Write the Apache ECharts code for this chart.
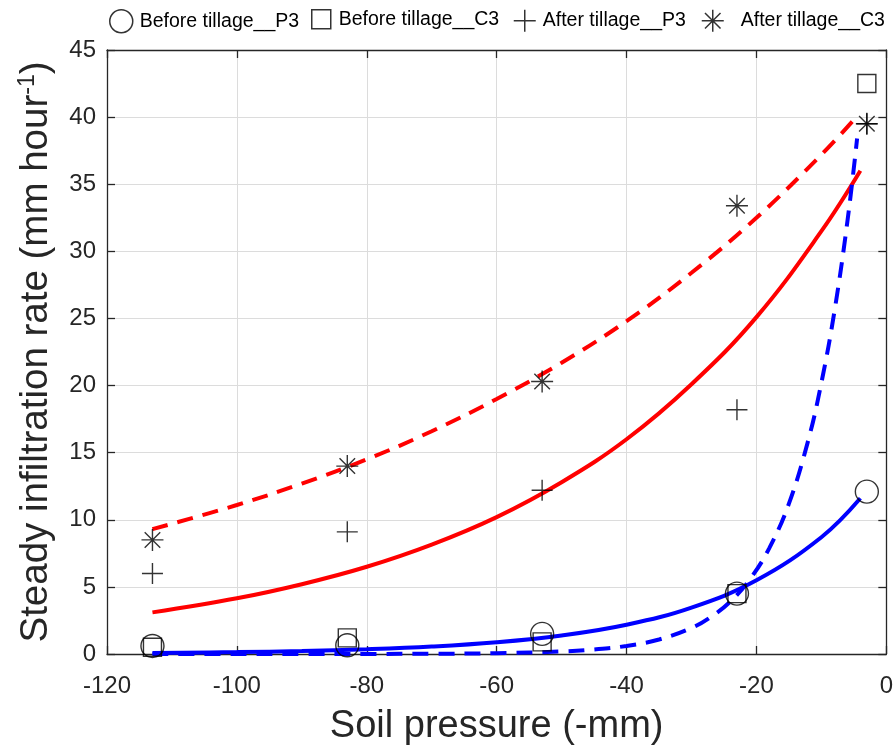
<!DOCTYPE html>
<html>
<head>
<meta charset="utf-8">
<title>Steady infiltration rate vs soil pressure</title>
<script src="https://cdn.jsdelivr.net/npm/echarts@6/dist/echarts.min.js"></script>
<style>
  html, body { margin: 0; padding: 0; background: #ffffff; }
  #chart { width: 896px; height: 751px; }
</style>
</head>
<body>
<div id="chart"></div>
<script>
// Measured soil pressures (-mm) and steady infiltration rates (mm/hour)
const pressure = [-113, -83, -53, -23, -3];
const beforeP3 = [0.6, 0.65, 1.5, 4.5, 12.1];
const beforeC3 = [0.5, 1.2, 0.9, 4.5, 42.5];
const afterP3  = [6.0, 9.1, 12.2, 18.2, 39.5];
const afterC3  = [8.5, 14.0, 20.3, 33.4, 39.5];

// Fitted exponential curves, sampled along the pressure range
const fitX_afterP3 = [-113, -100, -90, -80, -70, -60, -50, -40, -30, -20, -10, -4];
const fitY_afterP3 = [3.1, 4.15, 5.2, 6.5, 8.15, 10.2, 12.8, 16.0, 20.1, 25.1, 31.5, 36.0];

const fitX_afterC3 = [-113, -100, -90, -80, -70, -60, -50, -40, -30, -20, -10, -5];
const fitY_afterC3 = [9.3, 11.1, 12.7, 14.5, 16.6, 19.0, 21.7, 24.8, 28.4, 32.5, 37.2, 39.8];

const fitX_beforeP3 = [-113, -100, -90, -80, -70, -60, -50, -40, -30, -20, -10, -4];
const fitY_beforeP3 = [0.08, 0.14, 0.22, 0.35, 0.55, 0.87, 1.38, 2.18, 3.46, 5.49, 8.7, 11.6];

const fitX_beforeC3 = [-113, -100, -90, -80, -70, -60, -50, -45, -40, -35, -30, -27, -24, -21, -18, -15, -12, -10, -8, -6, -4.5];
const fitY_beforeC3 = [0, 0, 0, 0.006, 0.018, 0.058, 0.19, 0.34, 0.6, 1.08, 1.94, 2.77, 3.92, 5.57, 7.91, 11.2, 15.96, 20.2, 25.5, 32.2, 38.4];

// Axis ranges and tick spacing
const xMin = -120, xMax = 0, xStep = 20;
const yMin = 0, yMax = 45, yStep = 5;

const names = ['Before tillage__P3', 'Before tillage__C3', 'After tillage__P3', 'After tillage__C3'];

const pts = (xs, ys) => xs.map((x, i) => [x, ys[i]]);

const PLUS = 'path://M0,-10L0,10M-10,0L10,0';
const STAR = 'path://M0,-10L0,10M-10,0L10,0M-7.07,-7.07L7.07,7.07M-7.07,7.07L7.07,-7.07';
const SQUARE = 'path://M-10,-10L10,-10L10,10L-10,10Z';

const ink = '#262626';
const FONT = 'Liberation Sans, Arial, Helvetica, sans-serif';

function markerSeries(name, ys, symbol, size) {
  return {
    name: name,
    type: 'scatter',
    data: pts(pressure, ys),
    symbol: symbol,
    symbolSize: size,
    z: 5,
    itemStyle: { color: 'rgba(0,0,0,0)', borderColor: '#000000', borderWidth: 1.4 }
  };
}

function fitSeries(xs, ys, color, dashed) {
  return {
    type: 'line',
    data: pts(xs, ys),
    smooth: 0.4,
    showSymbol: false,
    silent: true,
    z: 3,
    lineStyle: { color: color, width: 4, type: dashed ? [16, 10] : 'solid', cap: 'butt' }
  };
}

// One legend block per entry so each sits at its own offset along the top
function legendAt(left, name, box, textPad) {
  return {
    left: left,
    top: 9,
    padding: 0,
    itemWidth: box,
    itemHeight: box,
    itemGap: 0,
    data: [name],
    textStyle: { fontFamily: FONT, fontSize: 19.5, color: '#000000', padding: [0, 0, 0, textPad] },
    itemStyle: { borderWidth: 1.5 }
  };
}

const chart = echarts.init(document.getElementById('chart'), null, { renderer: 'canvas' });

const baseAxis = {
  axisLine: { show: true, onZero: false, lineStyle: { color: ink, width: 1.3 } },
  axisTick: { show: true, inside: true, length: 8, lineStyle: { color: ink, width: 1.3 } }
};

chart.setOption({
  animation: false,
  backgroundColor: '#ffffff',
  textStyle: { fontFamily: FONT },
  legend: [
    legendAt(109, names[0], 23, 2),
    legendAt(311, names[1], 19, 3),
    legendAt(513, names[2], 22, 2),
    legendAt(701, names[3], 22, 12)
  ],
  grid: { left: 107, right: 9, top: 50, bottom: 94, containLabel: false },
  xAxis: [
    Object.assign({}, baseAxis, {
      type: 'value', position: 'bottom', min: xMin, max: xMax, interval: xStep,
      name: 'Soil pressure (-mm)', nameLocation: 'middle', nameGap: 54,
      nameTextStyle: { fontFamily: FONT, fontSize: 38, color: ink },
      axisLabel: { fontFamily: FONT, fontSize: 24, color: ink, margin: 20 },
      splitLine: { show: true, lineStyle: { color: '#dcdcdc', width: 1 } }
    }),
    Object.assign({}, baseAxis, {
      type: 'value', position: 'top', min: xMin, max: xMax, interval: xStep,
      axisLabel: { show: false }, splitLine: { show: false }
    })
  ],
  yAxis: [
    Object.assign({}, baseAxis, {
      type: 'value', position: 'left', min: yMin, max: yMax, interval: yStep,
      name: '{t|Steady infiltration rate (mm hour}{s|-1}{t|)}',
      nameLocation: 'middle', nameGap: 50, nameRotate: 90,
      nameTextStyle: {
        fontFamily: FONT, fontSize: 38.5, color: ink,
        rich: {
          t: { fontFamily: FONT, fontSize: 38.5, color: ink },
          s: { fontFamily: FONT, fontSize: 23, color: ink, verticalAlign: 'top', padding: [0, 0, 18, 0] }
        }
      },
      axisLabel: { fontFamily: FONT, fontSize: 24, color: ink, margin: 11 },
      splitLine: { show: true, lineStyle: { color: '#dcdcdc', width: 1 } }
    }),
    Object.assign({}, baseAxis, {
      type: 'value', position: 'right', min: yMin, max: yMax, interval: yStep,
      axisLabel: { show: false }, splitLine: { show: false }
    })
  ],
  series: [
    fitSeries(fitX_afterC3, fitY_afterC3, '#ff0000', true),
    fitSeries(fitX_afterP3, fitY_afterP3, '#ff0000', false),
    fitSeries(fitX_beforeC3, fitY_beforeC3, '#0000ff', true),
    fitSeries(fitX_beforeP3, fitY_beforeP3, '#0000ff', false),
    markerSeries(names[0], beforeP3, 'circle', 23),
    markerSeries(names[1], beforeC3, SQUARE, 18),
    markerSeries(names[2], afterP3, PLUS, 21),
    markerSeries(names[3], afterC3, STAR, 22)
  ]
});
</script>
</body>
</html>
